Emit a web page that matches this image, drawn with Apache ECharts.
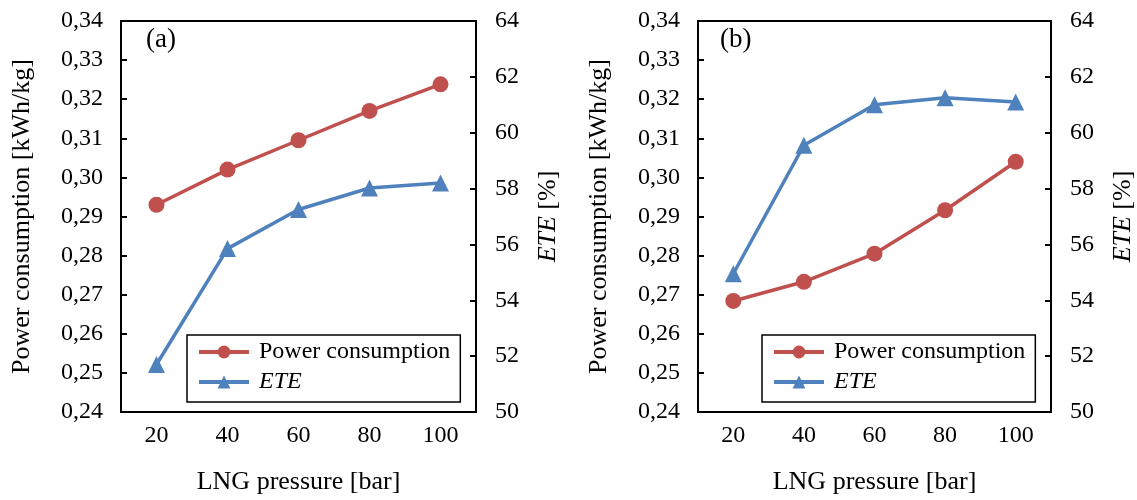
<!DOCTYPE html>
<html>
<head>
<meta charset="utf-8">
<script src="https://cdn.jsdelivr.net/npm/echarts@6/dist/echarts.min.js"></script>
<style>
  html, body { margin: 0; padding: 0; background: #fff; }
  #chart { width: 1137px; height: 500px; }
</style>
</head>
<body>
<div id="chart"></div>
<script>
// LNG pressure [bar]
const pressures = ['20', '40', '60', '80', '100']
// panel (a)
const powerA = [0.2930, 0.3020, 0.3095, 0.3170, 0.3238]
const eteA = [51.7, 55.85, 57.25, 58.02, 58.2]
// panel (b)
const powerB = [0.2684, 0.2733, 0.2805, 0.2916, 0.3040]
const eteB = [54.95, 59.55, 61.0, 61.25, 61.1]

const RED = '#C0504D'
const BLUE = '#4F81BD'
const FONT = '"Liberation Serif", "Times New Roman", serif'
const FS = 24
const NAME_FS = 26

let dom = document.getElementById('chart')
// eslint-disable-next-line
let chart = echarts.init(dom, null, { renderer: 'canvas' })

const italicRich = size => ({ i: { fontFamily: FONT, fontSize: size, fontStyle: 'italic', color: '#000' } })

function xAxisFor (idx) {
  return {
    type: 'category',
    gridIndex: idx,
    data: pressures,
    boundaryGap: true,
    name: 'LNG pressure [bar]',
    nameLocation: 'middle',
    nameGap: 57,
    nameTextStyle: { fontFamily: FONT, fontSize: NAME_FS, color: '#000' },
    axisLine: { lineStyle: { color: '#000', width: 2 } },
    axisTick: { alignWithLabel: true, inside: true, length: 6, lineStyle: { color: '#000', width: 2 } },
    axisLabel: { fontFamily: FONT, fontSize: FS, color: '#000', margin: 12 },
    splitLine: { show: false }
  }
}

function leftAxisFor (idx) {
  return {
    type: 'value',
    gridIndex: idx,
    min: 0.24,
    max: 0.34,
    interval: 0.01,
    position: 'left',
    name: 'Power consumption [kWh/kg]',
    nameLocation: 'middle',
    nameGap: 86,
    nameTextStyle: { fontFamily: FONT, fontSize: NAME_FS, color: '#000' },
    axisLine: { show: true, lineStyle: { color: '#000', width: 2 } },
    axisTick: { show: true, inside: true, length: 6, lineStyle: { color: '#000', width: 2 } },
    axisLabel: {
      fontFamily: FONT, fontSize: FS, color: '#000', margin: 18,
      formatter: v => v.toFixed(2).replace('.', ',')
    },
    splitLine: { show: false }
  }
}

function rightAxisFor (idx) {
  return {
    type: 'value',
    gridIndex: idx,
    min: 50,
    max: 64,
    interval: 2,
    position: 'right',
    name: '{i|ETE} [%]',
    nameLocation: 'middle',
    nameRotate: 90,
    nameGap: 59,
    nameTextStyle: { fontFamily: FONT, fontSize: NAME_FS, color: '#000', rich: italicRich(NAME_FS) },
    axisLine: { show: true, lineStyle: { color: '#000', width: 2 } },
    axisTick: { show: true, inside: true, length: 6, lineStyle: { color: '#000', width: 2 } },
    axisLabel: { fontFamily: FONT, fontSize: FS, color: '#000', margin: 19 },
    splitLine: { show: false }
  }
}

function seriesFor (idx, power, ete) {
  return [
    {
      name: 'Power consumption',
      type: 'line',
      xAxisIndex: idx,
      yAxisIndex: idx * 2,
      data: power,
      symbol: 'circle',
      symbolSize: 16,
      lineStyle: { color: RED, width: 3.5 },
      itemStyle: { color: RED },
      z: 3
    },
    {
      name: 'ETE',
      type: 'line',
      xAxisIndex: idx,
      yAxisIndex: idx * 2 + 1,
      data: ete,
      symbol: 'triangle',
      symbolSize: 17,
      lineStyle: { color: BLUE, width: 3.5 },
      itemStyle: { color: BLUE },
      z: 3
    }
  ]
}

function legendFor (left) {
  return {
    orient: 'vertical',
    left: left,
    top: 335,
    data: ['Power consumption', 'ETE'],
    itemWidth: 50,
    itemHeight: 16,
    itemGap: 6,
    padding: [5, 10, 8, 10],
    borderColor: '#000',
    borderWidth: 1.5,
    backgroundColor: '#fff',
    selectedMode: false,
    lineStyle: { width: 4 },
    formatter: name => name === 'ETE' ? '{i|ETE}' : name,
    textStyle: {
      fontFamily: FONT, fontSize: FS, color: '#000',
      padding: [0, 0, 0, 5],
      rich: italicRich(FS)
    }
  }
}

const option = {
  backgroundColor: '#fff',
  animation: false,
  grid: [
    { left: 121, right: 661, top: 21, bottom: 85, show: true, borderColor: '#000', borderWidth: 2 },
    { left: 698, right: 84, top: 21, bottom: 85, show: true, borderColor: '#000', borderWidth: 2 }
  ],
  xAxis: [xAxisFor(0), xAxisFor(1)],
  yAxis: [leftAxisFor(0), rightAxisFor(0), leftAxisFor(1), rightAxisFor(1)],
  legend: [legendFor(187), legendFor(762)],
  graphic: [
    { type: 'text', left: 146, top: 26, style: { text: '(a)', font: '27px ' + FONT, fill: '#000' } },
    { type: 'text', left: 720, top: 26, style: { text: '(b)', font: '27px ' + FONT, fill: '#000' } }
  ],
  series: seriesFor(0, powerA, eteA).concat(seriesFor(1, powerB, eteB))
}

chart.setOption(option)
</script>
</body>
</html>
